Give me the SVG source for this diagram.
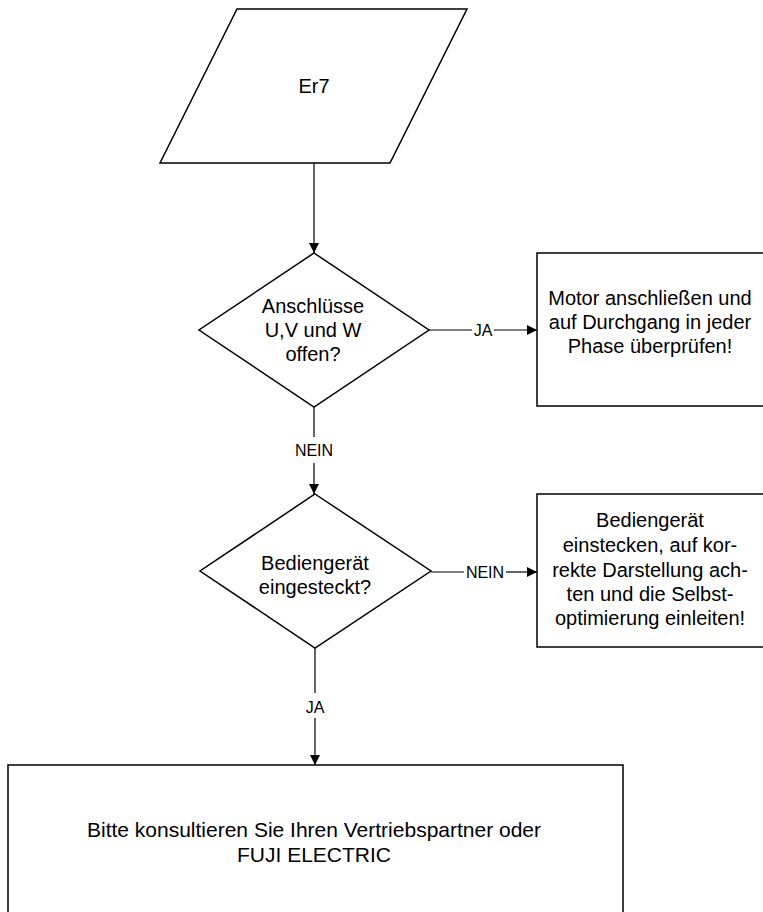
<svg xmlns="http://www.w3.org/2000/svg" width="763" height="912" viewBox="0 0 763 912">
<style>
.shape{fill:#fff;stroke:#000;stroke-width:1.5}
.conn{fill:none;stroke:#000;stroke-width:1.2}
.t{font-family:"Liberation Sans",Arial,sans-serif;font-size:20px;fill:#000;text-anchor:middle}
.big{font-size:21px}
.lbl{font-family:"Liberation Sans",Arial,sans-serif;font-size:16px;fill:#000;text-anchor:middle}
</style>
<defs>
<marker id="arr" viewBox="0 0 10 10" refX="10" refY="5" markerWidth="10" markerHeight="10" markerUnits="userSpaceOnUse" orient="auto">
<path d="M0,0 L10,5 L0,10 z" fill="#000"/>
</marker>
</defs>
<rect width="763" height="912" fill="#fff"/>
<g id="connectors">
<line class="conn" x1="314" y1="163" x2="314" y2="253" marker-end="url(#arr)"/>
<line class="conn" x1="429" y1="330" x2="472" y2="330"/>
<line class="conn" x1="494" y1="330" x2="537" y2="330" marker-end="url(#arr)"/>
<text class="lbl" x="483" y="336">JA</text>
<line class="conn" x1="314" y1="407" x2="314" y2="437"/>
<line class="conn" x1="314" y1="463" x2="314" y2="494" marker-end="url(#arr)"/>
<text class="lbl" x="314" y="456">NEIN</text>
<line class="conn" x1="431" y1="572" x2="464" y2="572"/>
<line class="conn" x1="506" y1="572" x2="537" y2="572" marker-end="url(#arr)"/>
<text class="lbl" x="485" y="578">NEIN</text>
<line class="conn" x1="315" y1="648" x2="315" y2="693"/>
<line class="conn" x1="315" y1="718" x2="315" y2="765" marker-end="url(#arr)"/>
<text class="lbl" x="315" y="713">JA</text>
</g>
<g id="start">
<polygon class="shape" points="237,9 467,9 390,163 160,163"/>
<text class="t" x="314" y="93">Er7</text>
</g>
<g id="decision1">
<polygon class="shape" points="314,253 429,330 314,407 199,330"/>
<text class="t" x="313" y="313">Anschlüsse</text>
<text class="t" x="313" y="337">U,V und W</text>
<text class="t" x="313" y="361">offen?</text>
</g>
<g id="action1">
<rect class="shape" x="537" y="253" width="230" height="153"/>
<text class="t" x="650" y="305">Motor anschließen und</text>
<text class="t" x="650" y="329">auf Durchgang in jeder</text>
<text class="t" x="650" y="353">Phase überprüfen!</text>
</g>
<g id="decision2">
<polygon class="shape" points="315,494 431,571 315,648 200,571"/>
<text class="t" x="315" y="570">Bediengerät</text>
<text class="t" x="315" y="594">eingesteckt?</text>
</g>
<g id="action2">
<rect class="shape" x="537" y="494" width="230" height="153"/>
<text class="t" x="650" y="527">Bediengerät</text>
<text class="t" x="650" y="552">einstecken, auf kor-</text>
<text class="t" x="650" y="577">rekte Darstellung ach-</text>
<text class="t" x="650" y="601">ten und die Selbst-</text>
<text class="t" x="650" y="625">optimierung einleiten!</text>
</g>
<g id="final">
<rect class="shape" x="8" y="765" width="615" height="160"/>
<text class="t big" x="314" y="837">Bitte konsultieren Sie Ihren Vertriebspartner oder</text>
<text class="t big" x="314" y="862">FUJI ELECTRIC</text>
</g>
</svg>
